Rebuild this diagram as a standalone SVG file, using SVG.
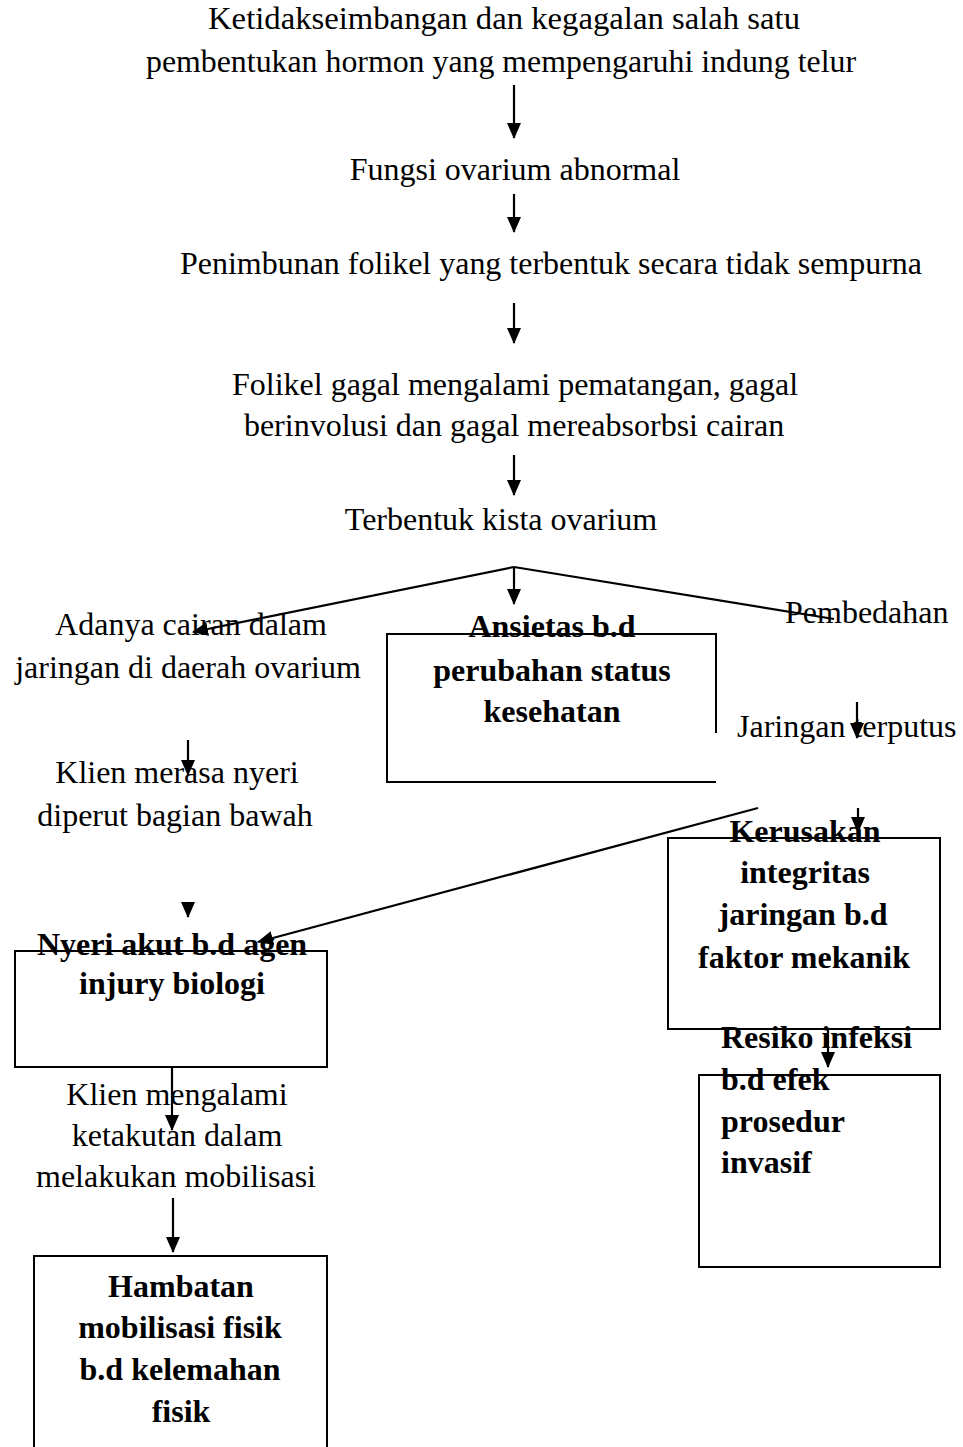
<svg xmlns="http://www.w3.org/2000/svg" width="963" height="1447" viewBox="0 0 963 1447">
<style>
.t{font-family:"Liberation Serif","Times New Roman",serif;font-size:32px;fill:#000}
.c{text-anchor:middle}
.b{font-weight:bold}
.box{fill:none;stroke:#000;stroke-width:2}
.ln{fill:none;stroke:#000;stroke-width:2.2}
</style>
<defs>
<marker id="ah" markerUnits="userSpaceOnUse" markerWidth="16" markerHeight="14" refX="15" refY="7" viewBox="0 0 16 14" orient="auto">
<path d="M0,0 L16,7 L0,14 Z" fill="#000"/>
</marker>
</defs>
<rect width="963" height="1447" fill="#fff"/>
<g id="n1"><text class="t c" x="504" y="29" textLength="592" lengthAdjust="spacingAndGlyphs">Ketidakseimbangan dan kegagalan salah satu</text>
<text class="t c" x="501" y="72" textLength="710" lengthAdjust="spacingAndGlyphs">pembentukan hormon yang mempengaruhi indung telur</text></g>
<g id="n2"><text class="t c" x="515" y="180">Fungsi ovarium abnormal</text></g>
<g id="n3"><text class="t c" x="551" y="274" textLength="742" lengthAdjust="spacingAndGlyphs">Penimbunan folikel yang terbentuk secara tidak sempurna</text></g>
<g id="n4"><text class="t c" x="515" y="395">Folikel gagal mengalami pematangan, gagal</text>
<text class="t c" x="514" y="436">berinvolusi dan gagal mereabsorbsi cairan</text></g>
<g id="n5"><text class="t c" x="501" y="530">Terbentuk kista ovarium</text></g>
<g id="n6"><text class="t c" x="191" y="635">Adanya cairan dalam</text>
<text class="t c" x="188" y="678">jaringan di daerah ovarium</text></g>
<g id="n7"><path class="box" d="M716,733 V634 H387 V782 H716"/>
<text class="t c b" x="552" y="637">Ansietas b.d</text>
<text class="t c b" x="552" y="681">perubahan status</text>
<text class="t c b" x="552" y="722">kesehatan</text></g>
<g id="n8"><text class="t" x="785" y="623">Pembedahan</text></g>
<g id="n9"><text class="t" x="737" y="737">Jaringan terputus</text></g>
<g id="n10"><text class="t c" x="177" y="783">Klien merasa nyeri</text>
<text class="t c" x="175" y="826">diperut bagian bawah</text></g>
<g id="n11"><rect class="box" x="15" y="951" width="312" height="116"/>
<text class="t c b" x="172" y="955">Nyeri akut b.d agen</text>
<text class="t c b" x="172" y="994">injury biologi</text></g>
<g id="n12"><text class="t c" x="177" y="1105">Klien mengalami</text>
<text class="t c" x="177" y="1146">ketakutan dalam</text>
<text class="t c" x="176" y="1187">melakukan mobilisasi</text></g>
<g id="n13"><rect class="box" x="34" y="1256" width="293" height="205"/>
<text class="t c b" x="181" y="1297">Hambatan</text>
<text class="t c b" x="180" y="1338">mobilisasi fisik</text>
<text class="t c b" x="180" y="1380">b.d kelemahan</text>
<text class="t c b" x="181" y="1422">fisik</text></g>
<g id="n14"><rect class="box" x="668" y="838" width="272" height="191"/>
<text class="t c b" x="805" y="842">Kerusakan</text>
<text class="t c b" x="805" y="883">integritas</text>
<text class="t c b" x="803" y="925">jaringan b.d</text>
<text class="t c b" x="804" y="968">faktor mekanik</text></g>
<g id="n15"><rect class="box" x="699" y="1075" width="241" height="192"/>
<text class="t b" x="721" y="1048">Resiko infeksi</text>
<text class="t b" x="721" y="1090">b.d efek</text>
<text class="t b" x="721" y="1132">prosedur</text>
<text class="t b" x="721" y="1173">invasif</text></g>
<g id="connectors">
<line class="ln" x1="514" y1="85" x2="514" y2="138" marker-end="url(#ah)"/>
<line class="ln" x1="514" y1="194" x2="514" y2="232" marker-end="url(#ah)"/>
<line class="ln" x1="514" y1="303" x2="514" y2="343" marker-end="url(#ah)"/>
<line class="ln" x1="514" y1="455" x2="514" y2="495" marker-end="url(#ah)"/>
<line class="ln" x1="514" y1="567" x2="193" y2="632" marker-end="url(#ah)"/>
<line class="ln" x1="514" y1="567" x2="514" y2="604" marker-end="url(#ah)"/>
<line class="ln" x1="514" y1="567" x2="834" y2="619"/>
<line class="ln" x1="857" y1="702" x2="857" y2="738" marker-end="url(#ah)"/>
<line class="ln" x1="188" y1="740" x2="188" y2="775" marker-end="url(#ah)"/>
<line class="ln" x1="188" y1="902" x2="188" y2="917" marker-end="url(#ah)"/>
<line class="ln" x1="758" y1="808" x2="258" y2="942" marker-end="url(#ah)"/>
<line class="ln" x1="858" y1="808" x2="858" y2="832" marker-end="url(#ah)"/>
<line class="ln" x1="828" y1="1030" x2="828" y2="1067" marker-end="url(#ah)"/>
<line class="ln" x1="172" y1="1067" x2="172" y2="1130" marker-end="url(#ah)"/>
<line class="ln" x1="173" y1="1198" x2="173" y2="1252" marker-end="url(#ah)"/>
</g>
</svg>
